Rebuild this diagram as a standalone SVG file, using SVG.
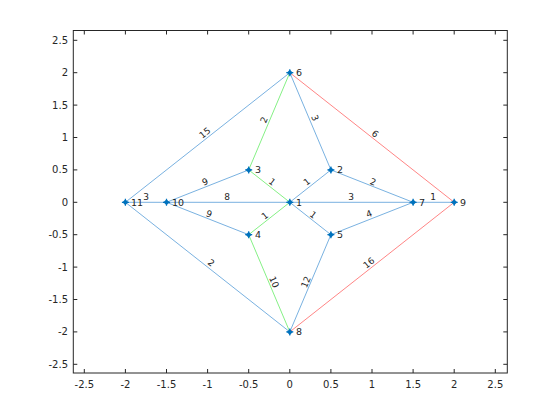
<svg xmlns="http://www.w3.org/2000/svg" width="560" height="420" viewBox="0 0 560 420">
<style>
text{font-family:"DejaVu Sans","Liberation Sans",sans-serif;fill:#262626}
.tk{font-size:10px}
.nl{font-size:9.5px}
.el{font-size:9px;text-anchor:middle;dominant-baseline:central}
.b{stroke:#6aa8dc;stroke-width:0.9;fill:none}
.g{stroke:#77ee77;stroke-width:0.9;fill:none}
.r{stroke:#ff7777;stroke-width:0.9;fill:none}
.ax{stroke:#262626;stroke-width:1;fill:none}
</style>
<defs>
<g id="mk"><path d="M-3,0 L0,-3 L3,0 L0,3 Z" fill="#0072BD"/><path d="M-3.5,0 H3.5 M0,-3.5 V3.5" stroke="#0072BD" stroke-width="1.2"/></g>
</defs>
<rect width="560" height="420" fill="#fff"/>
<g id="axes">
<rect class="ax" x="73.3" y="30.5" width="434" height="342.5"/>
<path class="ax" d="M84.3,373v-4M125.4,373v-4M166.5,373v-4M207.6,373v-4M248.7,373v-4M289.8,373v-4M330.9,373v-4M372,373v-4M413.1,373v-4M454.2,373v-4M495.3,373v-4
M84.3,30.5v4M125.4,30.5v4M166.5,30.5v4M207.6,30.5v4M248.7,30.5v4M289.8,30.5v4M330.9,30.5v4M372,30.5v4M413.1,30.5v4M454.2,30.5v4M495.3,30.5v4
M73.3,40.3h4M73.3,72.7h4M73.3,105.1h4M73.3,137.5h4M73.3,169.9h4M73.3,202.3h4M73.3,234.7h4M73.3,267.1h4M73.3,299.5h4M73.3,331.9h4M73.3,364.3h4
M507.3,40.3h-4M507.3,72.7h-4M507.3,105.1h-4M507.3,137.5h-4M507.3,169.9h-4M507.3,202.3h-4M507.3,234.7h-4M507.3,267.1h-4M507.3,299.5h-4M507.3,331.9h-4M507.3,364.3h-4"/>
<g class="tk" text-anchor="middle">
<text x="84.3" y="388">-2.5</text><text x="125.4" y="388">-2</text><text x="166.5" y="388">-1.5</text><text x="207.6" y="388">-1</text><text x="248.7" y="388">-0.5</text><text x="289.8" y="388">0</text><text x="330.9" y="388">0.5</text><text x="372" y="388">1</text><text x="413.1" y="388">1.5</text><text x="454.2" y="388">2</text><text x="495.3" y="388">2.5</text>
</g>
<g class="tk" text-anchor="end">
<text x="68" y="43.8">2.5</text><text x="68" y="76.2">2</text><text x="68" y="108.6">1.5</text><text x="68" y="141">1</text><text x="68" y="173.4">0.5</text><text x="68" y="205.8">0</text><text x="68" y="238.2">-0.5</text><text x="68" y="270.6">-1</text><text x="68" y="303">-1.5</text><text x="68" y="335.4">-2</text><text x="68" y="367.8">-2.5</text>
</g>
</g>
<g id="edges">
<line class="b" x1="289.8" y1="72.7" x2="125.4" y2="202.3"/>
<line class="g" x1="289.8" y1="72.7" x2="248.7" y2="169.9"/>
<line class="b" x1="289.8" y1="72.7" x2="330.9" y2="169.9"/>
<line class="r" x1="289.8" y1="72.7" x2="454.2" y2="202.3"/>
<line class="b" x1="125.4" y1="202.3" x2="166.5" y2="202.3"/>
<line class="b" x1="125.4" y1="202.3" x2="289.8" y2="331.9"/>
<line class="b" x1="166.5" y1="202.3" x2="248.7" y2="169.9"/>
<line class="b" x1="166.5" y1="202.3" x2="289.8" y2="202.3"/>
<line class="b" x1="166.5" y1="202.3" x2="248.7" y2="234.7"/>
<line class="g" x1="248.7" y1="169.9" x2="289.8" y2="202.3"/>
<line class="g" x1="248.7" y1="234.7" x2="289.8" y2="202.3"/>
<line class="g" x1="248.7" y1="234.7" x2="289.8" y2="331.9"/>
<line class="b" x1="289.8" y1="202.3" x2="330.9" y2="169.9"/>
<line class="b" x1="289.8" y1="202.3" x2="413.1" y2="202.3"/>
<line class="b" x1="289.8" y1="202.3" x2="330.9" y2="234.7"/>
<line class="b" x1="330.9" y1="169.9" x2="413.1" y2="202.3"/>
<line class="b" x1="330.9" y1="234.7" x2="413.1" y2="202.3"/>
<line class="b" x1="330.9" y1="234.7" x2="289.8" y2="331.9"/>
<line class="b" x1="413.1" y1="202.3" x2="454.2" y2="202.3"/>
<line class="r" x1="454.2" y1="202.3" x2="289.8" y2="331.9"/>
<g class="el">
<text transform="translate(205,133) rotate(-38)">15</text>
<text transform="translate(264,120) rotate(-67)">2</text>
<text transform="translate(315,118) rotate(67)">3</text>
<text transform="translate(375,134) rotate(38)">6</text>
<text transform="translate(205,182) rotate(-21)">9</text>
<text transform="translate(227,197)">8</text>
<text transform="translate(146,197)">3</text>
<text transform="translate(209,214) rotate(21)">9</text>
<text transform="translate(272,182) rotate(38)">1</text>
<text transform="translate(265,216) rotate(-38)">1</text>
<text transform="translate(307,182) rotate(-38)">1</text>
<text transform="translate(373,182) rotate(21)">2</text>
<text transform="translate(351,197)">3</text>
<text transform="translate(433,197)">1</text>
<text transform="translate(313,215) rotate(38)">1</text>
<text transform="translate(369,214) rotate(-21)">4</text>
<text transform="translate(211,263) rotate(38)">2</text>
<text transform="translate(274,282) rotate(67)">10</text>
<text transform="translate(306,282) rotate(-67)">12</text>
<text transform="translate(369,263) rotate(-38)">16</text>
</g>
</g>
<g id="n1"><use href="#mk" x="289.8" y="202.3"/><text class="nl" x="296" y="205.8">1</text></g>
<g id="n2"><use href="#mk" x="330.9" y="169.9"/><text class="nl" x="337" y="173.4">2</text></g>
<g id="n3"><use href="#mk" x="248.7" y="169.9"/><text class="nl" x="255" y="173.4">3</text></g>
<g id="n4"><use href="#mk" x="248.7" y="234.7"/><text class="nl" x="255" y="238.2">4</text></g>
<g id="n5"><use href="#mk" x="330.9" y="234.7"/><text class="nl" x="337" y="238.2">5</text></g>
<g id="n6"><use href="#mk" x="289.8" y="72.7"/><text class="nl" x="296" y="76.2">6</text></g>
<g id="n7"><use href="#mk" x="413.1" y="202.3"/><text class="nl" x="419" y="205.8">7</text></g>
<g id="n8"><use href="#mk" x="289.8" y="331.9"/><text class="nl" x="296" y="335.4">8</text></g>
<g id="n9"><use href="#mk" x="454.2" y="202.3"/><text class="nl" x="460" y="205.8">9</text></g>
<g id="n10"><use href="#mk" x="166.5" y="202.3"/><text class="nl" x="172" y="205.8">10</text></g>
<g id="n11"><use href="#mk" x="125.4" y="202.3"/><text class="nl" x="131" y="205.8">11</text></g>
</svg>
